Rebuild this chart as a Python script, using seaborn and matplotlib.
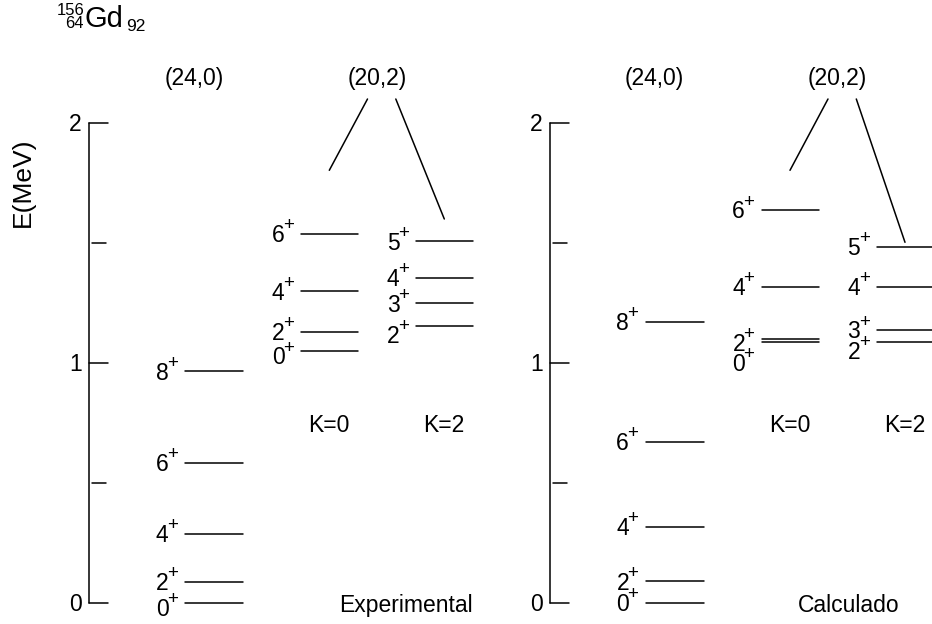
import matplotlib
matplotlib.use("Agg")
import matplotlib.pyplot as plt
import pandas as pd
import seaborn as sns

# Level energies (MeV) of 156Gd, experiment and calculation
exp_gsb_spin = [0, 2, 4, 6, 8]
exp_gsb_energy = [0.0, 0.089, 0.288, 0.585, 0.965]
exp_k0_spin = [0, 2, 4, 6]
exp_k0_energy = [1.049, 1.129, 1.298, 1.538]
exp_k2_spin = [2, 3, 4, 5]
exp_k2_energy = [1.154, 1.248, 1.355, 1.507]

calc_gsb_spin = [0, 2, 4, 6, 8]
calc_gsb_energy = [0.0, 0.090, 0.317, 0.671, 1.171]
calc_k0_spin = [0, 2, 4, 6]
calc_k0_energy = [1.088, 1.102, 1.318, 1.637]
calc_k2_spin = [2, 3, 4, 5]
calc_k2_energy = [1.089, 1.137, 1.318, 1.485]

energy_ticks = [0, 1, 2]
minor_ticks = [0.5, 1.5]
irrep_labels = ["(24,0)", "(20,2)"]
band_labels = ["K=0", "K=2"]
panel_labels = ["Experimental", "Calculado"]

sns.set_theme(style="white")
plt.rcParams["font.family"] = ["Liberation Sans", "DejaVu Sans"]
plt.rcParams["text.color"] = "black"

W, H = 932, 624
Y0, SCALE = 603.0, 240.0          # pixel row of E=0, pixels per MeV
FS = 16.5                          # main text size (pt)
FS_SUP = 13.5                      # parity superscript size (pt)
LW = 1.1
PX = 100 / 72                      # pixels per point


def e_of(py):
    """Energy coordinate of a pixel row (used for placing text)."""
    return (Y0 - py) / SCALE


fig = plt.figure(figsize=(W / 100, H / 100), dpi=100)
ax = fig.add_axes([0, 0, 1, 1])
ax.set_xlim(0, W)
ax.set_ylim(e_of(H), e_of(0))
ax.axis("off")

# horizontal layout of one panel (pixels, relative to the panel origin)
panel_x = [0.0, 460.5]
axis_x = 89.0
band_x = {"gsb": (185.0, 243.0), "k0": (301.0, 358.0), "k2": (416.0, 473.0)}

panels = [
    {"gsb": (exp_gsb_spin, exp_gsb_energy),
     "k0": (exp_k0_spin, exp_k0_energy),
     "k2": (exp_k2_spin, exp_k2_energy)},
    {"gsb": (calc_gsb_spin, calc_gsb_energy),
     "k0": (calc_k0_spin, calc_k0_energy),
     "k2": (calc_k2_spin, calc_k2_energy)},
]

# downward nudges (pixels) for labels of closely spaced levels
label_nudge = {
    (0, "gsb", 0): 5, (0, "k0", 0): 5, (0, "k2", 2): 9,
    (1, "k0", 2): 4, (1, "k0", 0): 21, (1, "k2", 2): 9,
}

rows = []
for p, bands in enumerate(panels):
    for band, (spins, energies) in bands.items():
        x0, x1 = band_x[band]
        for s, e in zip(spins, energies):
            rows.append({"panel": p, "band": band, "spin": s, "energy": e,
                         "x0": panel_x[p] + x0, "x1": panel_x[p] + x1})
levels = pd.DataFrame(rows)

segments = pd.concat([
    levels.assign(x=levels["x0"], uid=levels.index),
    levels.assign(x=levels["x1"], uid=levels.index),
])
sns.lineplot(data=segments, x="x", y="energy", units="uid", estimator=None,
             color="black", linewidth=LW, legend=False, ax=ax)

digit_half = 0.716 * FS * PX / 2
plus_adv = 0.584 * FS_SUP * PX
for _, r in levels.iterrows():
    nudge = label_nudge.get((r["panel"], r["band"], r["spin"]), 0)
    base_px = digit_half + nudge          # digit baseline below the level
    plus_right = r["x0"] - 7.0
    ax.text(plus_right, r["energy"] - (nudge - 3.6) / SCALE, "+",
            fontsize=FS_SUP, ha="right", va="baseline")
    ax.text(plus_right - plus_adv + 1.5, r["energy"] - base_px / SCALE,
            str(r["spin"]), fontsize=FS, ha="right", va="baseline")

for p, off in enumerate(panel_x):
    ax_x = off + axis_x
    # energy axis with major and detached minor ticks
    ax.plot([ax_x, ax_x], [energy_ticks[0], energy_ticks[-1]], color="black", lw=LW)
    for t in energy_ticks:
        ax.plot([ax_x, ax_x + 19], [t, t], color="black", lw=LW)
        ax.text(ax_x - 7, t - digit_half / SCALE, str(t), fontsize=FS,
                ha="right", va="baseline")
    for t in minor_ticks:
        ax.plot([ax_x + 3, ax_x + 17], [t, t], color="black", lw=LW)

    # SU(3) irrep headers
    ax.text(off + 194, e_of(85), irrep_labels[0], fontsize=FS, ha="center", va="baseline")
    ax.text(off + 377, e_of(85), irrep_labels[1], fontsize=FS, ha="center", va="baseline")

    # K band labels
    ax.text(off + 329, e_of(431.5), band_labels[0], fontsize=FS, ha="center", va="baseline")
    ax.text(off + 444, e_of(431.5), band_labels[1], fontsize=FS, ha="center", va="baseline")

    # panel label
    if p == 0:
        ax.text(off + 473, e_of(611.7), panel_labels[p], fontsize=FS, ha="right", va="baseline")
    else:
        ax.text(off + 388, e_of(611.7), panel_labels[p], fontsize=FS, ha="center", va="baseline")

# branches from the (20,2) irrep to its two bands
branch_ends = [(329.3, 170.3, 444.3, 219.0), (329.5, 170.3, 444.5, 242.3)]
for off, (lx, ly, rx, ry) in zip(panel_x, branch_ends):
    ax.plot([off + 367.5, off + lx], [e_of(99), e_of(ly)], color="black", lw=LW)
    ax.plot([off + 395.8, off + rx], [e_of(99), e_of(ry)], color="black", lw=LW)

# axis title
ax.text(22.5, e_of(182.5), "E(MeV)", fontsize=19, rotation=90,
        ha="center", va="center")

# nuclide symbol
ax.text(85, e_of(27.3), "Gd", fontsize=21, ha="left", va="baseline")
ax.text(84, e_of(15.0), "156", fontsize=12, ha="right", va="baseline")
ax.text(84, e_of(27.5), "64", fontsize=12, ha="right", va="baseline")
ax.text(126, e_of(30.7), "92", fontsize=12.5, ha="left", va="baseline")

fig.savefig("out.png", dpi=100)
